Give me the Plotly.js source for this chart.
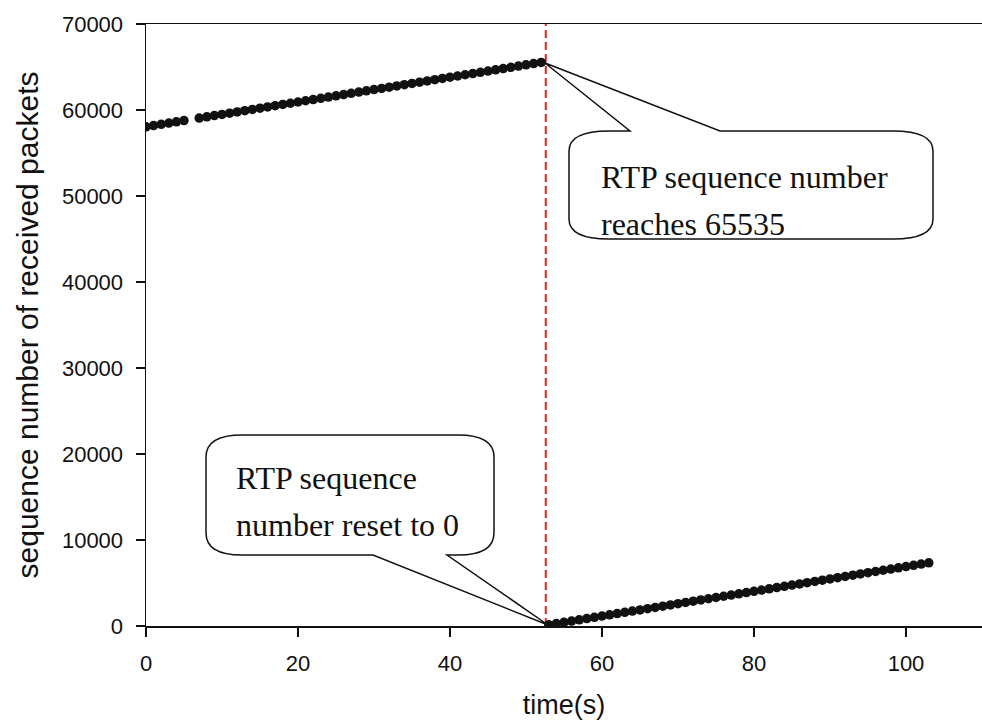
<!DOCTYPE html>
<html><head><meta charset="utf-8">
<script src="https://cdn.plot.ly/plotly-3.0.1.min.js"></script>
<style>html,body{margin:0;padding:0;background:#fff}</style>
</head><body>
<div id="chart" style="width:982px;height:724px"></div>
<script>
// ---- data ----
const timeBefore = [0,1,2,3,4,5,7,8,9,10,11,12,13,14,15,16,17,18,19,20,21,22,23,24,25,26,27,28,29,30,31,32,33,34,35,36,37,38,39,40,41,42,43,44,45,46,47,48,49,50,51,52];
const seqBefore = [58050,58194,58338,58482,58626,58770,59058,59202,59346,59490,59634,59778,59922,60066,60210,60354,60498,60642,60786,60930,61074,61218,61362,61506,61650,61794,61938,62082,62226,62370,62514,62658,62802,62946,63090,63234,63378,63522,63666,63810,63954,64098,64242,64386,64530,64674,64818,64962,65106,65250,65394,65535];
const timeAfter = [53,54,55,56,57,58,59,60,61,62,63,64,65,66,67,68,69,70,71,72,73,74,75,76,77,78,79,80,81,82,83,84,85,86,87,88,89,90,91,92,93,94,95,96,97,98,99,100,101,102,103];
const seqAfter = [146,290,434,578,722,866,1010,1154,1298,1442,1586,1730,1874,2018,2162,2306,2450,2594,2738,2882,3026,3170,3314,3458,3602,3746,3890,4034,4178,4322,4466,4610,4754,4898,5042,5186,5330,5474,5618,5762,5906,6050,6194,6338,6482,6626,6770,6914,7058,7202,7346];
const resetTime = [52.6];
const xTickVals = [0,20,40,60,80,100];
const yTickVals = [0,10000,20000,30000,40000,50000,60000,70000];
const xTitle = "time(s)";
const yTitle = "sequence number of received packets";
const callout1Lines = ["RTP sequence number", "reaches 65535"];
const callout2Lines = ["RTP sequence", "number reset to 0"];

// ---- layout helpers (pixel -> paper) ----
const W = 982, H = 724, ML = 146, MR = 0, MT = 24, MB = 98;
const PW = W - ML - MR, PH = H - MT - MB;
const X = px => (px - ML) / PW;
const Y = py => (H - MB - py) / PH;
function P(x, y) { return X(x).toFixed(5) + ',' + Y(y).toFixed(5); }
function calloutPath(b, ptr) {
  const {x0, y0, x1, y1, rx, ry} = b;
  let d = 'M' + P(x0 + rx, y0);
  if (ptr.side === 'top') d += ' L' + P(ptr.a, y0) + ' L' + P(ptr.tip[0], ptr.tip[1]) + ' L' + P(ptr.c, y0);
  d += ' L' + P(x1 - rx, y0) + ' Q' + P(x1, y0) + ' ' + P(x1, y0 + ry);
  d += ' L' + P(x1, y1 - ry) + ' Q' + P(x1, y1) + ' ' + P(x1 - rx, y1);
  if (ptr.side === 'bottom') d += ' L' + P(ptr.c, y1) + ' L' + P(ptr.tip[0], ptr.tip[1]) + ' L' + P(ptr.a, y1);
  d += ' L' + P(x0 + rx, y1) + ' Q' + P(x0, y1) + ' ' + P(x0, y1 - ry);
  d += ' L' + P(x0, y0 + ry) + ' Q' + P(x0, y0) + ' ' + P(x0 + rx, y0) + ' Z';
  return d;
}

const markerStyle = {color: '#111111', size: 9.5};
const traces = [
  {x: timeBefore, y: seqBefore, type: 'scatter', mode: 'markers', marker: markerStyle, hoverinfo: 'x+y'},
  {x: timeAfter, y: seqAfter, type: 'scatter', mode: 'markers', marker: markerStyle, hoverinfo: 'x+y'}
];

const serif = 'Liberation Serif, Times New Roman, serif';
const sans = 'Liberation Sans, Arial, Helvetica, sans-serif';
const calloutFont = {family: serif, size: 32, color: '#111'};

const shapes = [
  {type: 'line', xref: 'x', yref: 'paper', x0: resetTime[0], x1: resetTime[0], y0: 0, y1: 1,
   line: {color: '#e41f26', width: 2, dash: '8px,4px'}, layer: 'below'},
  {type: 'path', xref: 'paper', yref: 'paper',
   path: calloutPath({x0: 569, y0: 131, x1: 933, y1: 239, rx: 40, ry: 20}, {side: 'top', a: 630, c: 720, tip: [545, 63]}),
   line: {color: '#111', width: 1.5}, fillcolor: 'rgba(255,255,255,1)'},
  {type: 'path', xref: 'paper', yref: 'paper',
   path: calloutPath({x0: 206, y0: 435, x1: 494, y1: 555, rx: 36, ry: 22}, {side: 'bottom', a: 373, c: 447, tip: [548, 625]}),
   line: {color: '#111', width: 1.5}, fillcolor: 'rgba(255,255,255,1)'}
];

function textAnn(text, x, y) {
  return {text: text, xref: 'paper', yref: 'paper', x: X(x), y: Y(y), xanchor: 'left', yanchor: 'middle',
          showarrow: false, font: calloutFont, borderpad: 0, align: 'left'};
}
const annotations = [
  textAnn(callout1Lines[0], 600, 177),
  textAnn(callout1Lines[1], 600, 224),
  textAnn(callout2Lines[0], 235, 478),
  textAnn(callout2Lines[1], 235, 525)
];

const layout = {
  width: W, height: H,
  margin: {l: ML, r: MR, t: MT, b: MB, pad: 0},
  paper_bgcolor: '#fff', plot_bgcolor: '#fff',
  showlegend: false,
  xaxis: {
    range: [0, 110], tickvals: xTickVals, ticks: 'outside', ticklen: 9, tickwidth: 1.5, tickcolor: '#111',
    showline: true, linecolor: '#111', linewidth: 1.5, mirror: true, showgrid: false, zeroline: false,
    tickfont: {family: sans, size: 22, color: '#111'}, ticklabelstandoff: 8,
    title: {text: xTitle, font: {family: sans, size: 27, color: '#111'}, standoff: 20}
  },
  yaxis: {
    range: [0, 70000], tickvals: yTickVals, tickformat: 'd', ticks: 'outside', ticklen: 9, tickwidth: 1.5, tickcolor: '#111',
    showline: true, linecolor: '#111', linewidth: 1.5, showgrid: false, zeroline: false,
    tickfont: {family: sans, size: 22, color: '#111'}, ticklabelstandoff: 8,
    title: {text: yTitle, font: {family: sans, size: 30, color: '#111'}, standoff: 14}
  },
  shapes: shapes,
  annotations: annotations
};

Plotly.newPlot('chart', traces, layout, {staticPlot: true, displayModeBar: false});
</script>
</body></html>
